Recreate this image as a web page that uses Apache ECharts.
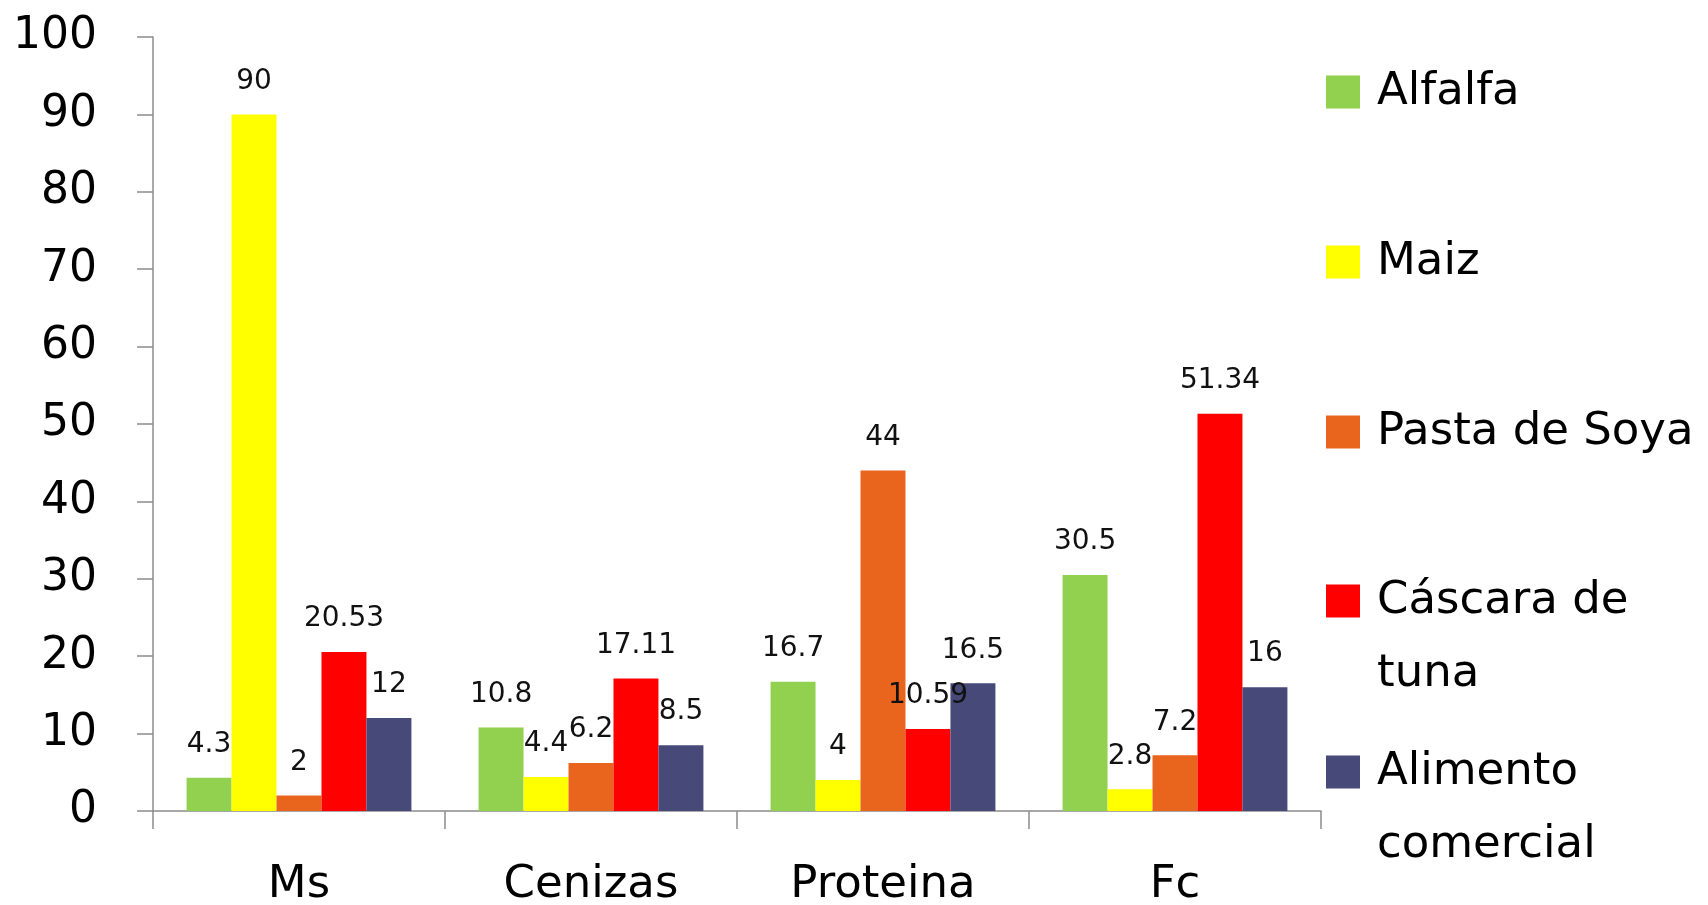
<!DOCTYPE html>
<html><head><meta charset="utf-8">
<script src="https://cdn.jsdelivr.net/npm/echarts@6/dist/echarts.min.js"></script>
<style>html,body{margin:0;padding:0;background:#fff}#c{width:1708px;height:905px}</style>
</head><body><div id="c"></div>
<script>
const categories = ['Ms', 'Cenizas', 'Proteina', 'Fc'];
const seriesNames = ['Alfalfa', 'Maiz', 'Pasta de Soya', 'Cáscara de tuna', 'Alimento comercial'];
const alfalfa = [4.3, 10.8, 16.7, 30.5];
const maiz = [90, 4.4, 4, 2.8];
const pastaSoya = [2, 6.2, 44, 7.2];
const cascaraTuna = [20.53, 17.11, 10.59, 51.34];
const alimentoComercial = [12, 8.5, 16.5, 16];
const legendLabels = ['Alfalfa', 'Maiz', 'Pasta de Soya', ' \nCáscara de\ntuna', ' \nAlimento\ncomercial'];
const colors = ['#92D050', '#FFFF00', '#E9641C', '#FF0000', '#474A78'];
const values = [alfalfa, maiz, pastaSoya, cascaraTuna, alimentoComercial];

const FONT = 'DejaVu Sans';
const legendTops = [49.5, 219.5, 389.5, 485.5, 656.5];

const chart = echarts.init(document.getElementById('c'), null, {renderer: 'canvas'});
chart.setOption({
  animation: false,
  backgroundColor: '#ffffff',
  textStyle: {fontFamily: FONT},
  grid: {left: 153, right: 387, top: 37, bottom: 94, containLabel: false, outerBoundsMode: 'none'},
  legend: seriesNames.map((n, i) => ({
    data: [n],
    orient: 'vertical',
    left: 1326,
    top: legendTops[i],
    padding: 0,
    itemWidth: 34,
    itemHeight: 33,
    icon: 'rect',
    formatter: () => legendLabels[i],
    textStyle: {fontFamily: FONT, fontSize: 45, color: '#000', lineHeight: 73, padding: [0, 0, 12, 12]}
  })),
  xAxis: {
    type: 'category',
    data: categories,
    axisLine: {lineStyle: {color: '#8c8c8c', width: 1.5}},
    axisTick: {show: true, length: 18, lineStyle: {color: '#8c8c8c', width: 1.5}},
    axisLabel: {fontFamily: FONT, fontSize: 45, color: '#000', margin: 52},
    splitLine: {show: false}
  },
  yAxis: {
    type: 'value',
    min: 0, max: 100, interval: 10,
    axisLine: {show: true, lineStyle: {color: '#8c8c8c', width: 1.5}},
    axisTick: {show: true, length: 16, lineStyle: {color: '#8c8c8c', width: 1.5}},
    axisLabel: {fontFamily: FONT, fontSize: 44, color: '#000', margin: 56, padding: [0, 0, 16, 0]},
    splitLine: {show: false}
  },
  series: seriesNames.map((n, i) => ({
    name: n,
    type: 'bar',
    data: values[i],
    barGap: '0%',
    barCategoryGap: '23%',
    itemStyle: {color: colors[i]},
    label: {show: true, position: 'top', distance: 19, fontFamily: FONT, fontSize: 28, color: '#111'}
  }))
});
</script></body></html>
